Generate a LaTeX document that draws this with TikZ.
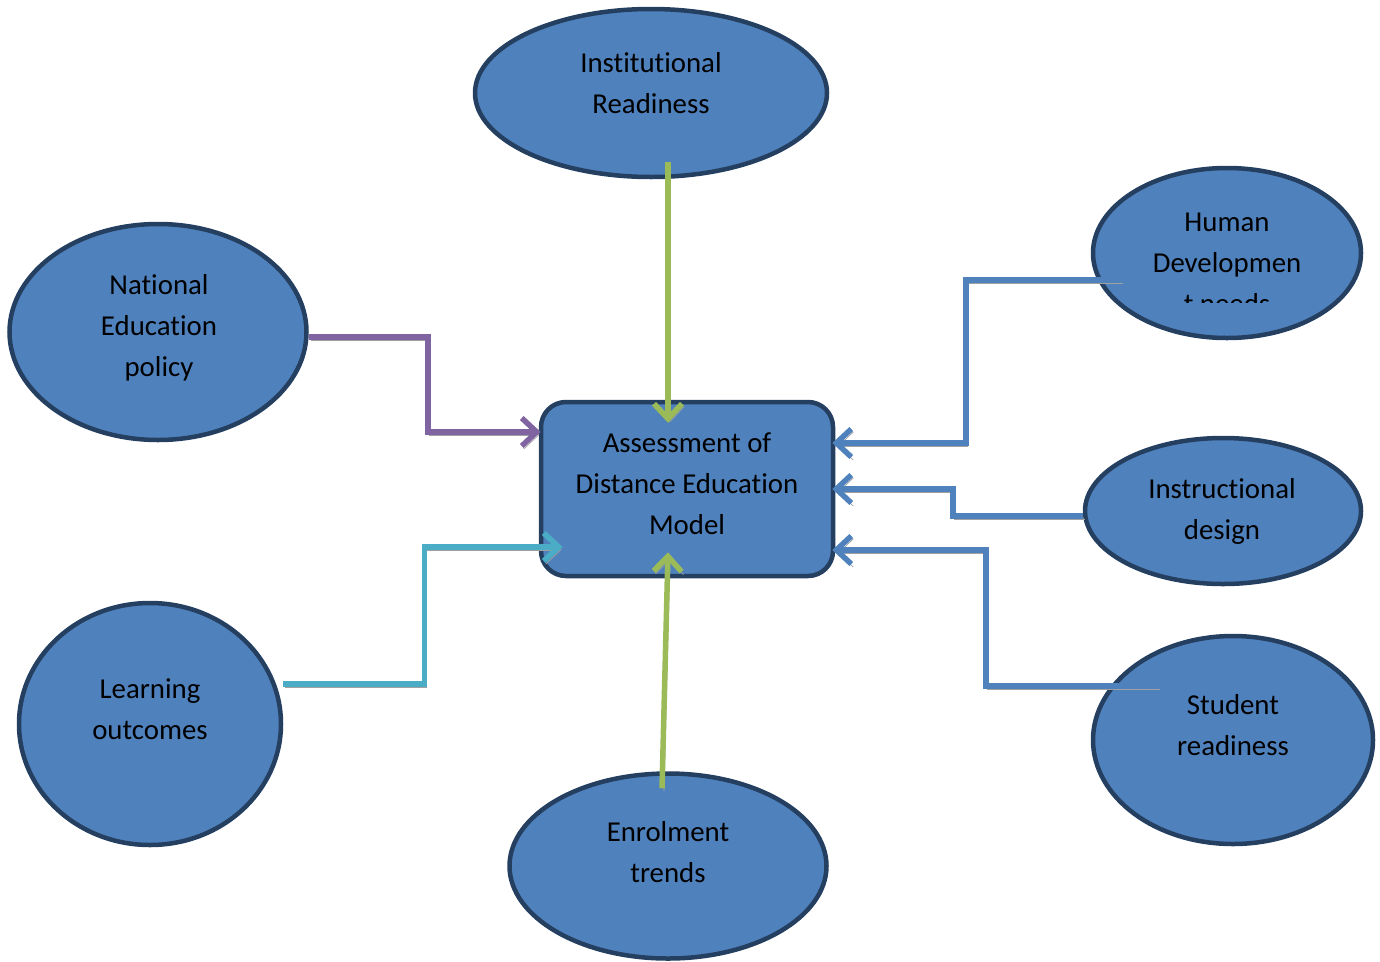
\documentclass[tikz,border=0pt]{standalone}
\usepackage{fontspec}
\setmainfont[Ligatures=NoCommon]{Carlito}
\usetikzlibrary{arrows.meta,shapes.geometric}
\definecolor{ovalfill}{HTML}{4F81BD}
\definecolor{ovaldraw}{HTML}{243F60}
\definecolor{lgreen}{HTML}{9BBB59}
\definecolor{lpurple}{HTML}{8064A2}
\definecolor{lcyan}{HTML}{4BACC6}
\definecolor{lblue}{HTML}{4F81BD}
\definecolor{shadegray}{HTML}{A0A0A0}
\tikzset{
  oval/.style={ellipse, draw=ovaldraw, fill=ovalfill, line width=0.09cm, inner sep=0pt},
  box/.style={rectangle, rounded corners=0.5cm, draw=ovaldraw, fill=ovalfill, line width=0.09cm, inner sep=0pt,
    minimum width=5.84cm, minimum height=3.48cm},
  txt/.style={align=center, inner sep=0pt, font=\fontsize{16.4}{23.3}\selectfont},
  conn/.style={->, line width=0.11cm,
    preaction={draw=shadegray, transform canvas={shift={(0.04cm,-0.06cm)}}}},
}
\begin{document}
\begin{tikzpicture}[>={Straight Barb[length=0.3cm,width=0.56cm]}]
        \useasboundingbox (0,0) rectangle (27.6,-19.22);
        % Ellissi
        \node[oval, minimum width=7.04cm, minimum height=3.36cm] (inst) at (13.02,-1.86) {};
        \node[oval, minimum width=5.94cm, minimum height=4.32cm] (natl) at (3.16,-6.64) {};
        \node[oval, minimum width=5.36cm, minimum height=3.40cm] (human) at (24.54,-5.06) {};
        \node[oval, minimum width=5.52cm, minimum height=2.92cm] (instr) at (24.46,-10.22) {};
        \node[oval, minimum width=5.24cm, minimum height=4.84cm] (learn) at (3.00,-14.48) {};
        \node[oval, minimum width=6.34cm, minimum height=3.70cm] (enrol) at (13.36,-17.32) {};
        \node[oval, minimum width=5.60cm, minimum height=4.16cm] (student) at (24.66,-14.80) {};
        % Modello
        \node[box] (model) at (13.74,-9.78) {};
        % Testi
        \node[txt] (inst-t) at (13.02,-1.67) {Institutional\\Readiness};
        \node[txt] (natl-t) at (3.18,-6.56) {National\\Education\\policy};
        \begin{scope}
            \clip (21.5,-3.0) rectangle (27.5,-6.04);
            \node[txt] (human-t) at (24.54,-5.26) {Human\\Developmen\\t needs};
        \end{scope}
        \node[txt] (instr-t) at (24.44,-10.22) {Instructional\\design};
        \node[txt] (learn-t) at (3.00,-14.19) {Learning\\outcomes};
        \node[txt] (enrol-t) at (13.36,-17.05) {Enrolment\\trends};
        \node[txt] (student-t) at (24.66,-14.51) {Student\\readiness};
        \node[txt] (model-t) at (13.74,-9.68) {Assessment of\\Distance Education\\Model};
        % Frecce
        \draw[conn, lgreen] ([xshift=0.34cm,yshift=0.34cm]inst.south) -- ([xshift=-0.38cm,yshift=-0.46cm]model.north);
        \draw[conn, lgreen] ([xshift=-0.12cm,yshift=-0.34cm]enrol.north) -- ([xshift=-0.38cm,yshift=0.52cm]model.south);
        \draw[conn, lpurple] ([yshift=-0.1cm]natl.east) -- ++(2.38,0) |- ([xshift=0.04cm,yshift=1.14cm]model.west);
        \draw[conn, lcyan] ([yshift=0.8cm]learn.east) -- ++(2.82,0) |- ([xshift=0.48cm,yshift=-1.16cm]model.west);
        \draw[conn, lblue] ([xshift=0.6cm,yshift=-0.54cm]human.west) -- ++(-3.1,0) |- ([xshift=-0.06cm,yshift=0.92cm]model.east);
        \draw[conn, lblue] ([yshift=-0.1cm]instr.west) -- ++(-2.6,0) |- ([xshift=-0.06cm]model.east);
        \draw[conn, lblue] ([xshift=1.34cm,yshift=1.08cm]student.west) -- ++(-3.44,0) |- ([xshift=-0.06cm,yshift=-1.22cm]model.east);
    \end{tikzpicture}
\end{document}
